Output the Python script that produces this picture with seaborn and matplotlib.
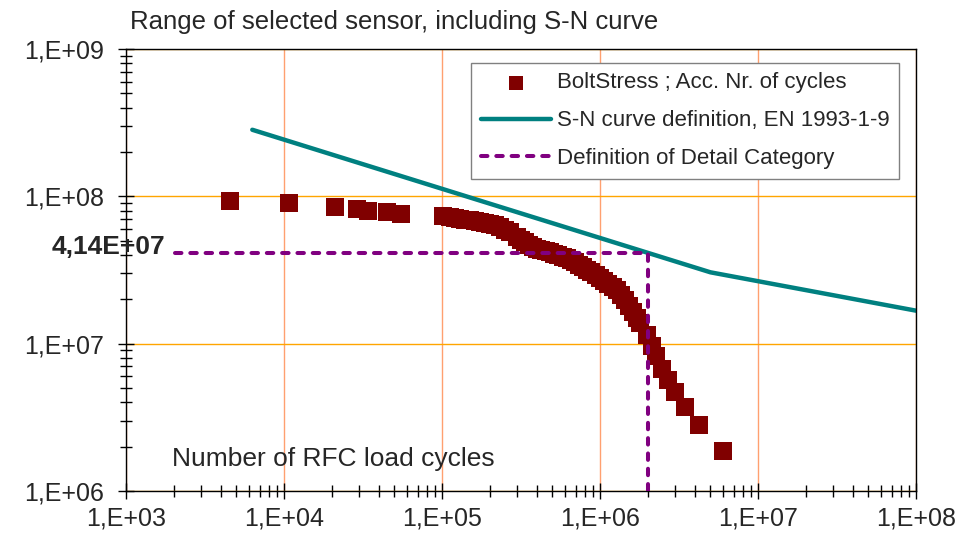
import seaborn as sns
import matplotlib.pyplot as plt
import matplotlib.transforms as mtransforms
from matplotlib.ticker import FixedLocator, FixedFormatter, LogLocator, NullFormatter

# accumulated number of cycles / stress range for the bolt sensor
cycles = [4.55e3, 1.08e4, 2.10e4, 2.90e4, 3.40e4, 4.49e4, 5.50e4,
          1.01e5, 1.12e5, 1.21e5, 1.30e5, 1.40e5, 1.50e5, 1.62e5, 1.74e5,
          1.87e5, 2.01e5, 2.17e5, 2.33e5, 2.50e5, 2.69e5, 2.98e5, 3.16e5,
          3.35e5, 3.55e5, 3.77e5, 3.99e5, 4.23e5, 4.55e5, 4.83e5, 5.12e5,
          5.42e5, 5.83e5, 6.18e5, 6.55e5, 6.95e5, 7.36e5, 7.81e5, 8.27e5,
          8.77e5, 9.43e5, 1.00e6, 1.06e6, 1.12e6, 1.21e6, 1.28e6, 1.36e6,
          1.44e6, 1.53e6, 1.62e6, 1.71e6, 1.79e6, 1.98e6, 2.13e6, 2.26e6,
          2.47e6, 2.69e6, 2.98e6, 3.45e6, 4.23e6, 6.00e6]
stress = [9.29e7, 9.01e7, 8.46e7, 8.20e7, 7.95e7, 7.82e7, 7.58e7,
          7.35e7, 7.24e7, 7.12e7, 7.01e7, 6.96e7, 6.91e7, 6.80e7, 6.69e7,
          6.59e7, 6.49e7, 6.34e7, 6.19e7, 5.95e7, 5.72e7, 5.29e7, 5.09e7,
          4.90e7, 4.71e7, 4.53e7, 4.42e7, 4.32e7, 4.25e7, 4.19e7, 4.09e7,
          3.99e7, 3.90e7, 3.81e7, 3.69e7, 3.58e7, 3.44e7, 3.31e7, 3.18e7,
          3.06e7, 2.92e7, 2.79e7, 2.66e7, 2.54e7, 2.42e7, 2.31e7, 2.14e7,
          1.98e7, 1.80e7, 1.64e7, 1.49e7, 1.38e7, 1.14e7, 9.63e6, 8.24e6,
          6.72e6, 5.66e6, 4.69e6, 3.71e6, 2.80e6, 1.87e6]

# S-N curve (EN 1993-1-9) knots
sn_cycles = [6.3e3, 5.0e6, 1.0e8]
sn_stress = [2.83e8, 3.05e7, 1.675e7]

# detail category marker line
dc_cycles = [2.05e3, 2.0e6, 2.0e6]
dc_stress = [4.14e7, 4.14e7, 1.0e6]
dc_label = "4,14E+07"

x_ticks = [1e3, 1e4, 1e5, 1e6, 1e7, 1e8]
x_tick_labels = ["1,E+03", "1,E+04", "1,E+05", "1,E+06", "1,E+07", "1,E+08"]
y_ticks = [1e6, 1e7, 1e8, 1e9]
y_tick_labels = ["1,E+06", "1,E+07", "1,E+08", "1,E+09"]

sns.set_style("white")
plt.rcParams['font.family'] = ['Liberation Sans', 'DejaVu Sans']

fig = plt.figure(figsize=(9.67, 5.38), dpi=100)
ax = fig.add_axes([126 / 967, 1 - 491 / 538, 790 / 967, 442 / 538])

sns.scatterplot(x=cycles, y=stress, marker='s', s=180, color='#800000',
                linewidth=0, label='BoltStress ; Acc. Nr. of cycles', ax=ax, zorder=3)
sns.lineplot(x=sn_cycles, y=sn_stress, color='#008080', linewidth=3.2,
             sort=False, estimator=None, label='S-N curve definition, EN 1993-1-9',
             ax=ax, zorder=2)
ax.plot(dc_cycles, dc_stress, color='#800080', linewidth=2.9,
        linestyle=(0, (1.6, 2.2)), dash_capstyle='round',
        label='Definition of Detail Category', zorder=4)

ax.set_xscale('log')
ax.set_yscale('log')
ax.set_xlim(1e3, 1e8)
ax.set_ylim(1e6, 1e9)

ax.xaxis.set_major_locator(FixedLocator(x_ticks))
ax.xaxis.set_major_formatter(FixedFormatter(x_tick_labels))
ax.yaxis.set_major_locator(FixedLocator(y_ticks))
ax.yaxis.set_major_formatter(FixedFormatter(y_tick_labels))
ax.xaxis.set_minor_locator(LogLocator(base=10, subs=range(2, 10), numticks=20))
ax.yaxis.set_minor_locator(LogLocator(base=10, subs=range(2, 10), numticks=20))
ax.xaxis.set_minor_formatter(NullFormatter())
ax.yaxis.set_minor_formatter(NullFormatter())

ax.tick_params(which='major', direction='inout', length=11, width=1, color='black',
               labelsize=18, bottom=True, left=True, top=False, right=False)
ax.tick_params(which='minor', direction='inout', length=8, width=1, color='black',
               bottom=True, left=True, top=False, right=False)
ax.tick_params(axis='x', which='major', pad=6)
ax.tick_params(axis='y', which='major', pad=10)

for sp in ax.spines.values():
    sp.set_color('black')
    sp.set_linewidth(1)

ax.set_axisbelow(True)
ax.xaxis.grid(True, which='major', color='#FFA070', linewidth=1)
ax.yaxis.grid(True, which='major', color='#FFA500', linewidth=1)
ax.set_xlabel('')
ax.set_ylabel('')

ax.legend(loc='upper right', bbox_to_anchor=(0.979, 0.968), borderaxespad=0,
          fontsize=16, frameon=True, fancybox=False, edgecolor='#808080',
          framealpha=1, handlelength=3.15, handletextpad=0.3, labelspacing=0.76,
          borderpad=0.42, markerscale=0.75)

trans = mtransforms.blended_transform_factory(ax.transAxes, ax.transData)
ax.annotate(dc_label, xy=(0.0494, 4.14e7), xycoords=trans, xytext=(0, 4),
            textcoords='offset points', ha='right', va='center',
            fontsize=19, fontweight='bold', annotation_clip=False)

fig.text(130 / 967, 1 - 29.3 / 538, 'Range of selected sensor, including S-N curve',
         fontsize=18.5, ha='left', va='baseline')
ax.text(0.0582, 0.0572, 'Number of RFC load cycles', transform=ax.transAxes,
        fontsize=19, ha='left', va='baseline')

fig.savefig('out.png', dpi=100)
